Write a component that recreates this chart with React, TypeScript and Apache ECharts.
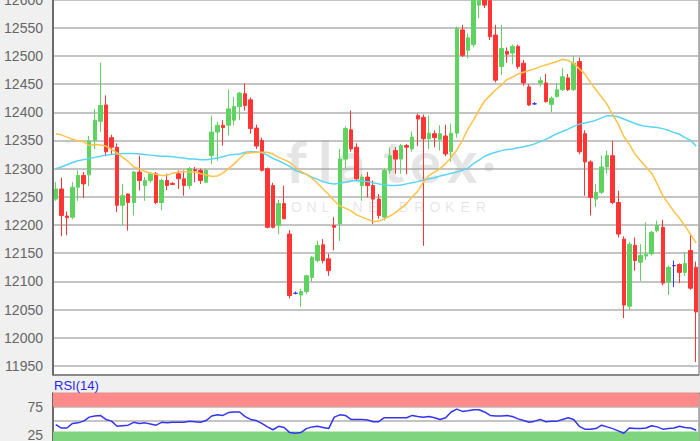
import React, { useEffect, useRef } from "react";
import * as echarts from "echarts";

const opens = [
  12246, 12264, 12216, 12214, 12267, 12288, 12289, 12350, 12384, 12413,
  12355, 12338, 12235, 12255, 12240, 12294, 12270, 12279, 12291, 12240,
  12279, 12274, 12291, 12282, 12270, 12298, 12297, 12276, 12323, 12365,
  12377, 12377, 12386, 12410, 12433, 12422, 12372, 12350, 12300, 12270,
  12199, 12238, 12184, 12079, 12076, 12082, 12107, 12137, 12165, 12140,
  12199, 12202, 12317, 12369, 12338, 12270, 12285, 12270, 12246, 12214,
  12297, 12332, 12317, 12341, 12335, 12394, 12391, 12353, 12362, 12352,
  12358, 12330, 12363, 12546, 12510, 12520, 12590, 12600, 12598, 12537,
  12481, 12508, 12505, 12517, 12487, 12445, 12415, 12452, 12452, 12414,
  12428, 12440, 12461, 12440, 12490, 12362, 12312, 12246, 12258, 12303,
  12323, 12240, 12175, 12056, 12164, 12134, 12145, 12149, 12190, 12196,
  12099, 12128, 12130, 12116, 12155, 12125,
];
const closes = [
  12264, 12217, 12213, 12267, 12288, 12273, 12349, 12386, 12412, 12330,
  12338, 12235, 12252, 12240, 12294, 12279, 12279, 12291, 12240, 12279,
  12270, 12272, 12282, 12270, 12300, 12296, 12279, 12297, 12365, 12377,
  12373, 12406, 12410, 12434, 12412, 12371, 12340, 12297, 12196, 12196,
  12238, 12211, 12075, 12079, 12082, 12110, 12143, 12164, 12137, 12119,
  12196, 12317, 12371, 12335, 12282, 12285, 12270, 12246, 12217, 12297,
  12323, 12317, 12341, 12338, 12356, 12388, 12353, 12363, 12355, 12362,
  12326, 12363, 12549, 12501, 12532, 12600, 12598, 12590, 12534, 12457,
  12513, 12503, 12517, 12481, 12452, 12413, 12415, 12456, 12419, 12425,
  12440, 12463, 12440, 12487, 12330, 12312, 12249, 12258, 12303, 12323,
  12240, 12184, 12058, 12166, 12137, 12146, 12148, 12187, 12199, 12097,
  12125, 12128, 12116, 12132, 12088, 12046,
];
const lows = [
  12243, 12180, 12182, 12210, 12243, 12248, 12269, 12335, 12365, 12322,
  12325, 12223, 12200, 12190, 12217, 12261, 12243, 12275, 12237, 12226,
  12262, 12271, 12264, 12252, 12264, 12276, 12273, 12274, 12308, 12314,
  12341, 12359, 12377, 12386, 12403, 12362, 12335, 12295, 12194, 12194,
  12184, 12211, 12070, 12077, 12055, 12078, 12100, 12134, 12132, 12110,
  12155, 12172, 12300, 12330, 12280, 12243, 12249, 12202, 12211, 12208,
  12291, 12291, 12291, 12290, 12330, 12340, 12163, 12335, 12338, 12332,
  12322, 12312, 12355, 12498, 12495, 12515, 12567, 12585, 12528, 12453,
  12466, 12488, 12485, 12477, 12447, 12411, 12413, 12446, 12417, 12400,
  12426, 12438, 12438, 12438, 12326, 12252, 12217, 12232, 12255, 12291,
  12237, 12178, 12035, 12049, 12119, 12101, 12138, 12146, 12187, 12093,
  12076, 12090, 12097, 12110, 12085, 11957,
];
const highs = [
  12276, 12284, 12224, 12276, 12297, 12294, 12358, 12406, 12488, 12430,
  12360, 12345, 12273, 12256, 12296, 12323, 12285, 12294, 12294, 12282,
  12291, 12276, 12297, 12297, 12303, 12303, 12300, 12300, 12394, 12383,
  12386, 12440, 12427, 12436, 12451, 12426, 12378, 12355, 12302, 12275,
  12245, 12270, 12191, 12082, 12087, 12112, 12145, 12172, 12175, 12149,
  12214, 12335, 12375, 12403, 12345, 12290, 12294, 12279, 12255, 12300,
  12338, 12338, 12344, 12344, 12366, 12398, 12396, 12394, 12368, 12377,
  12378, 12380, 12552, 12555, 12540, 12606, 12606, 12606, 12602, 12555,
  12555, 12515, 12520, 12520, 12493, 12450, 12418, 12463, 12468, 12428,
  12452, 12478, 12468, 12500, 12497, 12368, 12315, 12273, 12323, 12332,
  12349, 12261, 12180, 12170, 12178, 12166, 12205, 12190, 12208, 12209,
  12128, 12137, 12132, 12152, 12185, 12135,
];
const maOrange = [
  12362, 12360, 12356, 12352, 12349, 12348, 12341, 12343, 12342, 12340,
  12334, 12328, 12320, 12313, 12303, 12300, 12295, 12292, 12290, 12288,
  12288, 12292, 12294, 12295, 12294, 12294, 12291, 12289, 12286, 12287,
  12292, 12300, 12308, 12318, 12327, 12328, 12329, 12329, 12329, 12326,
  12320, 12316, 12311, 12303, 12295, 12290, 12283, 12274, 12264, 12254,
  12243, 12234, 12230, 12225, 12218, 12214, 12210, 12206, 12207, 12211,
  12216, 12222, 12230, 12238, 12250, 12260, 12276, 12288, 12294, 12300,
  12309, 12320, 12333, 12350, 12370, 12386, 12404, 12420, 12430, 12440,
  12448, 12458, 12462, 12468, 12471, 12474, 12477, 12481, 12484, 12487,
  12490, 12494, 12492, 12487, 12477, 12468, 12453, 12440, 12427, 12414,
  12396, 12379, 12357, 12343, 12326, 12314, 12303, 12292, 12273, 12252,
  12238, 12224, 12212, 12198, 12183, 12168,
];
const maCyan = [
  12300, 12303, 12307, 12311, 12314, 12316, 12318, 12320, 12322, 12324,
  12325, 12326, 12327, 12327, 12327, 12326, 12325, 12324, 12323, 12322,
  12322, 12321, 12320, 12319, 12317, 12317, 12316, 12316, 12317, 12319,
  12321, 12324, 12325, 12326, 12329, 12330, 12330, 12328, 12324, 12318,
  12314, 12309, 12304, 12297, 12293, 12290, 12285, 12281, 12277, 12274,
  12273, 12274, 12276, 12278, 12279, 12278, 12277, 12275, 12273, 12271,
  12270, 12270, 12271, 12273, 12275, 12277, 12280, 12282, 12284, 12287,
  12289, 12292, 12294, 12297, 12301, 12309, 12315, 12322, 12326, 12329,
  12332, 12334, 12335, 12337, 12339, 12341, 12344, 12348, 12352, 12357,
  12362, 12366, 12370, 12375, 12379, 12381, 12383, 12386, 12390, 12394,
  12394, 12392, 12388, 12384, 12380, 12377, 12375, 12374, 12373, 12371,
  12368, 12364, 12361, 12355, 12350, 12340,
];
const rsi = [
  44, 38, 38, 46, 47, 50, 57, 59, 60, 53,
  50, 41, 42, 43, 48, 46, 47, 45, 43, 48,
  47, 48, 48, 48, 50, 49, 48, 51, 59, 61,
  60, 65, 66, 66, 58, 53, 51, 46, 40, 35,
  41, 39, 30, 29, 30, 37, 40, 41, 39, 37,
  57, 61, 60, 53, 53, 53, 52, 49, 49, 56,
  56, 56, 56, 56, 60, 58, 57, 58, 56, 53,
  56, 66, 71, 67, 68, 70, 70, 66, 60, 59,
  59, 60, 58, 54, 51, 48, 50, 53, 49, 50,
  50, 53, 56, 53, 41, 36, 36, 37, 43, 40,
  37, 33, 29, 38, 37, 37, 38, 42, 40, 36,
  37, 38, 41, 39, 38, 34,
];
const categories = opens.map((_, i) => `#${i + 1}`);
const priceMin = 11900;
const priceMax = 12600;
const priceStep = 50;
const rsiLabels = [25, 75];
const rsiOverbought = [75, 100];
const rsiOversold = [0, 32];

const UP = "#5fd35f";
const DOWN = "#ff3535";
const DOJI = "#3535ee";
const FONT = "'Liberation Sans', Arial, sans-serif";

export default function App() {
  const ref = useRef<HTMLDivElement>(null);
  useEffect(() => {
    const chart = echarts.init(ref.current as HTMLDivElement, null, { renderer: "svg" });
    const candleData = opens.map((o, i) => {
      const item: any = { value: [o, closes[i], lows[i], highs[i]] };
      if (o === closes[i]) {
        item.itemStyle = { color: DOJI, color0: DOJI, borderColor: DOJI, borderColor0: DOJI };
      }
      return item;
    });

    const wmFill = "rgba(150,150,150,0.25)";
    const bigLetters = [
      { ch: "f", x: 286 },
      { ch: "l", x: 318 },
      { ch: "a", x: 336 },
      { ch: "t", x: 383 },
      { ch: "e", x: 410 },
      { ch: "x", x: 447 },
    ];
    const small = "ONLINE BROKER".split("");
    const graphic: any[] = [];
    bigLetters.forEach((l) =>
      graphic.push({
        type: "text",
        x: l.x,
        y: 160,
        z: 1,
        silent: true,
        style: {
          text: l.ch,
          fill: wmFill,
          font: "bold 58px Lato",
          align: "left",
          verticalAlign: "middle",
          textAlign: "left",
          textVerticalAlign: "middle",
        },
      })
    );
    graphic.push({
      type: "circle",
      z: 1,
      silent: true,
      shape: { cx: 489, cy: 167, r: 4.5 },
      style: { fill: wmFill },
    });
    small.forEach((ch, k) => {
      if (ch === " ") return;
      graphic.push({
        type: "text",
        x: 291 + k * 15.4,
        y: 207,
        z: 1,
        silent: true,
        style: {
          text: ch,
          fill: wmFill,
          font: "14px 'Liberation Sans'",
          align: "left",
          verticalAlign: "middle",
          textAlign: "left",
          textVerticalAlign: "middle",
        },
      });
    });
    graphic.push({
      type: "rect",
      z: 100,
      silent: true,
      shape: { x: 0, y: 375.5, width: 700, height: 17 },
      style: { fill: "#f0f0f0" },
    });
    graphic.push({
      type: "line",
      z: 101,
      silent: true,
      shape: { x1: 53, y1: 375, x2: 699, y2: 375 },
      style: { stroke: "#666", lineWidth: 1.5 },
    });
    graphic.push({
      type: "text",
      z: 102,
      x: 54,
      y: 385,
      silent: true,
      style: {
        text: "RSI(14)",
        fill: "#2626ee",
        font: `13px ${FONT}`,
        align: "left",
        verticalAlign: "middle",
        textAlign: "left",
        textVerticalAlign: "middle",
      },
    });

    const hiddenX = {
      type: "category",
      data: categories,
      boundaryGap: true,
      axisLine: { show: false },
      axisTick: { show: false },
      axisLabel: { show: false },
      splitLine: { show: false },
    };

    chart.setOption({
      animation: false,
      backgroundColor: "#f0f0f0",
      grid: [
        {
          left: 53,
          right: 1,
          top: -0.5,
          bottom: 46.8,
          containLabel: false,
          outerBoundsMode: "none",
          show: true,
          backgroundColor: "#ffffff",
          borderColor: "#666",
          borderWidth: 1,
        },
        {
          left: 53,
          right: 1,
          top: 392.5,
          height: 57.3,
          containLabel: false,
          outerBoundsMode: "none",
          show: true,
          backgroundColor: "#ffffff",
          borderColor: "#666",
          borderWidth: 1,
        },
      ],
      xAxis: [
        { ...hiddenX, gridIndex: 0 },
        { ...hiddenX, gridIndex: 1 },
      ],
      yAxis: [
        {
          type: "value",
          gridIndex: 0,
          min: priceMin,
          max: priceMax,
          interval: priceStep,
          axisLine: { show: true, lineStyle: { color: "#555", width: 1.5 } },
          axisTick: { show: false },
          axisLabel: {
            color: "#666",
            fontSize: 14,
            fontFamily: FONT,
            margin: 10,
            formatter: (v: number) => (v === priceMin ? "" : String(v)),
          },
          splitLine: { show: true, lineStyle: { color: "#b0b0b0", width: 1.5 } },
        },
        {
          type: "value",
          gridIndex: 1,
          min: 0,
          max: 100,
          interval: 25,
          axisLine: { show: true, lineStyle: { color: "#555", width: 1.5 } },
          axisTick: { show: false },
          axisLabel: {
            color: "#666",
            fontSize: 14,
            fontFamily: FONT,
            margin: 10,
            formatter: (v: number) => (rsiLabels.includes(v) ? String(v) : ""),
          },
          splitLine: { show: true, lineStyle: { color: "#b0b0b0", width: 1.5 } },
        },
      ],
      series: [
        {
          type: "candlestick",
          xAxisIndex: 0,
          yAxisIndex: 0,
          data: candleData,
          barWidth: 4,
          itemStyle: {
            color: UP,
            color0: DOWN,
            borderColor: UP,
            borderColor0: DOWN,
            borderWidth: 1,
          },
        },
        {
          type: "line",
          xAxisIndex: 0,
          yAxisIndex: 0,
          data: maCyan,
          symbol: "none",
          z: 3,
          lineStyle: { color: "#5ad4f4", width: 1.5 },
        },
        {
          type: "line",
          xAxisIndex: 0,
          yAxisIndex: 0,
          data: maOrange,
          symbol: "none",
          z: 3,
          lineStyle: { color: "#ffc247", width: 1.5 },
        },
        {
          type: "line",
          xAxisIndex: 1,
          yAxisIndex: 1,
          data: rsi,
          symbol: "none",
          z: 4,
          lineStyle: { color: "#3434f0", width: 1.5 },
          markArea: {
            silent: true,
            data: [
              [
                { yAxis: rsiOverbought[0], itemStyle: { color: "#ff8a8a" } },
                { yAxis: rsiOverbought[1] },
              ],
              [
                { yAxis: rsiOversold[0], itemStyle: { color: "#7fd57f" } },
                { yAxis: rsiOversold[1] },
              ],
            ],
          },
        },
      ],
      graphic,
    });
    return () => chart.dispose();
  }, []);
  return (
    <div
      ref={ref}
      style={{ position: "absolute", left: 0, top: 0, width: 700, height: 441 }}
    />
  );
}
